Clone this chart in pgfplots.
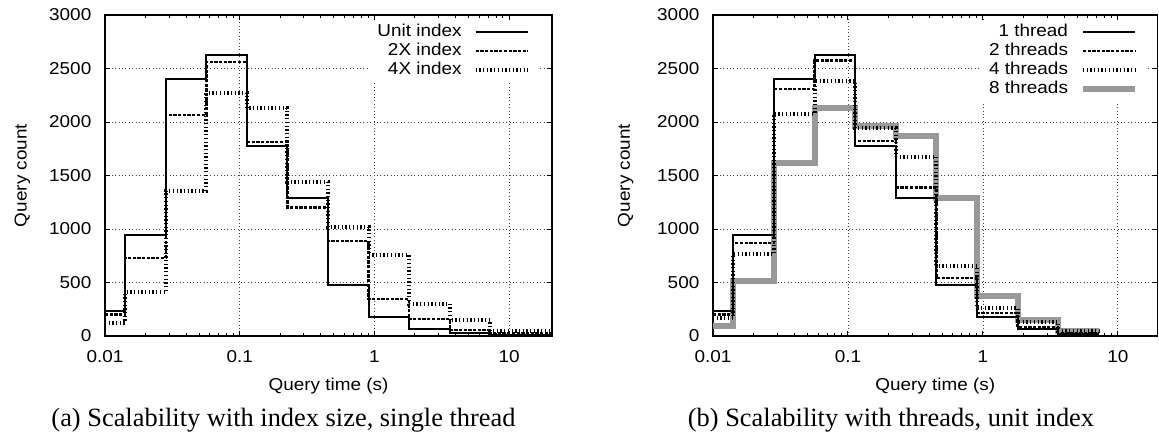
\documentclass[border=0pt]{standalone}
\usepackage{fontspec}
\setmainfont{Liberation Sans}[FakeStretch=1.1]
\newfontfamily\capfont{Liberation Serif}
\usepackage{pgfplots}
\pgfplotsset{compat=1.18}
\newcommand\tf{\fontsize{8.6pt}{10pt}\selectfont}
\newcommand\tl[1]{\mbox{\tf #1}}

\tikzset{
  solidline/.style={black, line width=1pt},
  dashline/.style={black, line width=1.15pt, dash pattern=on 1.65pt off 0.7pt},
  dotline/.style={black, line width=2pt, dash pattern=on 0.65pt off 1.2pt},
  greyline/.style={black!40, line width=3pt},
}
\pgfplotsset{
  every axis/.append style={
    scale only axis, height=160.5pt,
    tick align=inside,
    major tick length=2.6pt, minor tick length=1.3pt,
    tick style={black, line width=0.5pt},
    axis line style={line width=0.6pt},
    major grid style={black!75, line width=0.35pt, dash pattern=on 0.5pt off 1.2pt},
    xticklabel style={inner sep=0pt, anchor=north, yshift=-7pt},
    yticklabel style={inner sep=0pt, anchor=east, xshift=-6.65pt},
    xlabel style={at={(axis description cs:0.5,0)}, anchor=base, yshift=-27pt, inner sep=0pt},
    legend cell align=right,
    legend plot pos=right,
    legend style={anchor=north east, fill=white, draw=none, inner xsep=4pt, inner ysep=2pt,
      row sep=1.5pt, nodes={inner sep=0pt, text height=6.5pt, text depth=1.5pt},
      /tikz/column sep=6pt},
  },
  legend image code/.code={\draw[#1] (0pt,0pt) -- (26pt,0pt);},
}

\begin{document}
\begin{tikzpicture}
\path[use as bounding box] (0,0) rectangle (579.5pt,216.5pt);

\begin{axis}[xmode=log, ymin=0, ymax=3000, xmin=0.01, xmax=20.8,
  at={(52.5pt,48.5pt)}, anchor=south west, width=223.5pt,
  const plot, grid=major,
  xtick={0.01,0.1,1,10}, xticklabels={\tl{0.01},\tl{0.1},\tl{1},\tl{10}},
  ytick={0,500,1000,1500,2000,2500,3000},
  yticklabels={\tl{0},\tl{500},\tl{1000},\tl{1500},\tl{2000},\tl{2500},\tl{3000}},
  xlabel={\tf Query time (s)}, ylabel={\tf Query count},
  legend style={at={(axis description cs:0.9687,0.9866)}},
  ylabel style={at={(axis description cs:-0.1756,0.5)}, anchor=base, inner sep=0pt}]
\addplot[solidline] coordinates {(0.01,237)(0.014142,944)(0.028284,2400)(0.056569,2625)(0.113137,1780)(0.226274,1290)(0.452548,472)(0.905097,180)(1.810193,62)(3.620387,24)(7.240773,10)(20.8,10)};
\addlegendentry{\tf Unit index}
\addplot[dashline] coordinates {(0.01,200)(0.014142,732)(0.028284,2065)(0.056569,2560)(0.113137,1810)(0.226274,1202)(0.452548,885)(0.905097,343)(1.810193,156)(3.620387,58)(7.240773,25)(20.8,25)};
\addlegendentry{\tf 2X index}
\addplot[dotline] coordinates {(0.01,125)(0.014142,408)(0.028284,1358)(0.056569,2268)(0.113137,2128)(0.226274,1442)(0.452548,1022)(0.905097,754)(1.810193,302)(3.620387,148)(7.240773,50)(20.8,50)};
\addlegendentry{\tf 4X index}
\end{axis}

\begin{axis}[xmode=log, ymin=0, ymax=3000, xmin=0.01, xmax=19.7,
  at={(356.5pt,48.5pt)}, anchor=south west, width=222.25pt,
  const plot, grid=major,
  xtick={0.01,0.1,1,10}, xticklabels={\tl{0.01},\tl{0.1},\tl{1},\tl{10}},
  ytick={0,500,1000,1500,2000,2500,3000},
  yticklabels={\tl{0},\tl{500},\tl{1000},\tl{1500},\tl{2000},\tl{2500},\tl{3000}},
  xlabel={\tf Query time (s)}, ylabel={\tf Query count},
  legend style={at={(axis description cs:0.975,0.9866)}},
  ylabel style={at={(axis description cs:-0.1872,0.5)}, anchor=base, inner sep=0pt}]
\addplot[greyline, forget plot] coordinates {(0.01,93)(0.014142,514)(0.028284,1620)(0.056569,2134)(0.113137,1960)(0.226274,1872)(0.452548,1287)(0.905097,374)(1.810193,150)(3.620387,45)(7.240773,45)};
\addplot[solidline] coordinates {(0.01,237)(0.014142,944)(0.028284,2400)(0.056569,2625)(0.113137,1780)(0.226274,1290)(0.452548,472)(0.905097,180)(1.810193,62)(3.620387,22)(7.240773,22)};
\addlegendentry{\tf 1 thread}
\addplot[dashline] coordinates {(0.01,200)(0.014142,872)(0.028284,2308)(0.056569,2576)(0.113137,1825)(0.226274,1389)(0.452548,545)(0.905097,212)(1.810193,80)(3.620387,30)(7.240773,30)};
\addlegendentry{\tf 2 threads}
\addplot[dotline] coordinates {(0.01,165)(0.014142,763)(0.028284,2078)(0.056569,2383)(0.113137,1944)(0.226274,1676)(0.452548,657)(0.905097,258)(1.810193,130)(3.620387,45)(7.240773,45)};
\addlegendentry{\tf 4 threads}
\addlegendimage{greyline}
\addlegendentry{\tf 8 threads}
\end{axis}

\node[anchor=base, inner sep=0pt] at (141.75pt,3.5pt) {\capfont\fontsize{13.2pt}{15pt}\selectfont (a) Scalability with index size, single thread};
\node[anchor=base, inner sep=0pt] at (445.5pt,3.5pt) {\capfont\fontsize{13.2pt}{15pt}\selectfont (b) Scalability with threads, unit index};
\end{tikzpicture}
\end{document}
